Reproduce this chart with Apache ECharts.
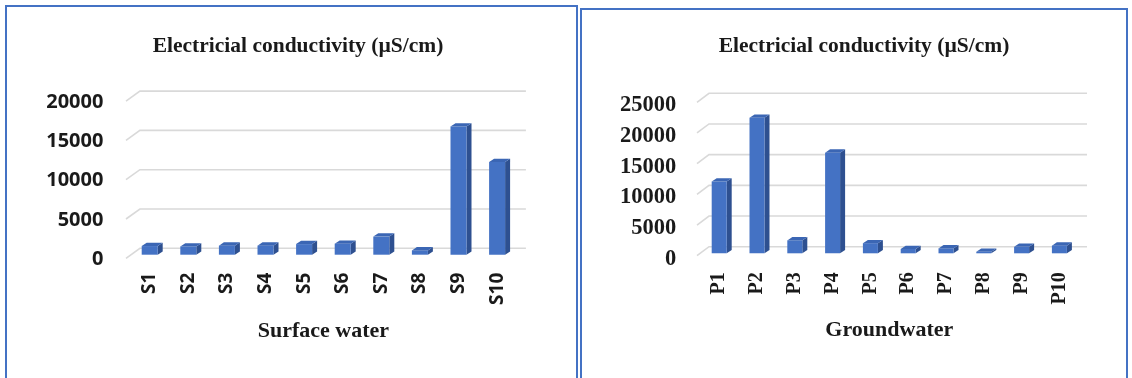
<!DOCTYPE html>
<html>
<head>
<meta charset="utf-8">
<script src="https://cdn.jsdelivr.net/npm/echarts@6/dist/echarts.min.js"></script>
<style>
  html, body { margin: 0; padding: 0; background: #fff; }
  #drew { width: 1132px; height: 378px; }
</style>
</head>
<body>
<div id="drew"></div>
<script>
var surfaceCats = ['S1', 'S2', 'S3', 'S4', 'S5', 'S6', 'S7', 'S8', 'S9', 'S10'];
var surfaceVals = [1100, 1050, 1150, 1150, 1350, 1400, 2300, 550, 16300, 11800];
var groundCats = ['P1', 'P2', 'P3', 'P4', 'P5', 'P6', 'P7', 'P8', 'P9', 'P10'];
var groundVals = [11700, 22100, 2100, 16400, 1650, 700, 800, 250, 1050, 1250];
var surfaceTicks = [0, 5000, 10000, 15000, 20000];
var groundTicks = [0, 5000, 10000, 15000, 20000, 25000];

var titleText = 'Electricial conductivity (\u00b5S/cm)';
var serif = '"Liberation Serif", "Times New Roman", serif';
var sans = '"Open Sans", "Liberation Sans", sans-serif';

// fake 3d column: front face, right side, top
function barRender(w, dx, dy) {
    return function(params, api) {
        var c = api.coord([api.value(0), api.value(1)]);
        var z = api.coord([api.value(0), 0]);
        var xl = c[0] - w / 2, xr = c[0] + w / 2;
        var top = c[1], base = z[1];
        return {
            type: 'group',
            children: [{
                type: 'polygon',
                shape: { points: [[xr, top], [xr + dx, top - dy], [xr + dx, base - dy], [xr, base]] },
                style: { fill: '#2e5090' }
            }, {
                type: 'rect',
                shape: { x: xl, y: top, width: w, height: base - top },
                style: { fill: '#4472c4' }
            }, {
                type: 'polygon',
                shape: { points: [[xl, top], [xr, top], [xr + dx, top - dy], [xl + dx, top - dy]] },
                style: { fill: '#3b66b4' }
            }]
        };
    };
}

// back wall gridlines with the slanted floor stub
function wallRender(backDx, backDy, frontDx, frontDy) {
    return function(params, api) {
        var cs = params.coordSys;
        var y = api.coord([0, api.value(1)])[1];
        return {
            type: 'polyline',
            shape: { points: [[cs.x + frontDx, y + frontDy], [cs.x + backDx, y - backDy], [cs.x + cs.width + backDx, y - backDy]] },
            style: { stroke: '#d9d9d9', lineWidth: 1.6, fill: null }
        };
    };
}

function plain(v) { return String(v); }

var myChart = echarts.init(document.getElementById('drew'));
var option = {
    backgroundColor: '#fff',
    animation: false,
    graphic: [{
        type: 'rect', shape: { x: 6, y: 6, width: 571, height: 400 },
        style: { fill: null, stroke: '#4472c4', lineWidth: 2 }
    }, {
        type: 'rect', shape: { x: 581, y: 9, width: 546, height: 400 },
        style: { fill: null, stroke: '#4472c4', lineWidth: 2 }
    }],
    title: [{
        text: titleText, left: 293, top: 30, textAlign: 'center',
        textStyle: { fontFamily: serif, fontWeight: 'bold', fontSize: 21.5, color: '#1a1a1a' }
    }, {
        text: titleText, left: 859, top: 30, textAlign: 'center',
        textStyle: { fontFamily: serif, fontWeight: 'bold', fontSize: 21.5, color: '#1a1a1a' }
    }],
    grid: [
        { left: 130.4, top: 97.5, width: 386, height: 157.2 },
        { left: 700.3, top: 99.9, width: 378, height: 153.4 }
    ],
    xAxis: [{
        type: 'category', gridIndex: 0, data: surfaceCats,
        name: 'Surface water', nameLocation: 'middle', nameGap: 66,
        nameTextStyle: { fontFamily: serif, fontWeight: 'bold', fontSize: 22, color: '#1a1a1a' },
        axisLine: { show: false }, axisTick: { show: false },
        axisLabel: { rotate: 90, margin: 18, fontFamily: sans, fontWeight: 'bold', fontSize: 19, color: '#1a1a1a' }
    }, {
        type: 'category', gridIndex: 1, data: groundCats,
        name: 'Groundwater', nameLocation: 'middle', nameGap: 66,
        nameTextStyle: { fontFamily: serif, fontWeight: 'bold', fontSize: 22, color: '#1a1a1a' },
        axisLine: { show: false }, axisTick: { show: false },
        axisLabel: { rotate: 90, margin: 19, fontFamily: serif, fontWeight: 'bold', fontSize: 20, color: '#1a1a1a' }
    }],
    yAxis: [{
        type: 'value', gridIndex: 0, min: 0, max: 20000, interval: 5000,
        splitLine: { show: false }, axisLine: { show: false }, axisTick: { show: false },
        axisLabel: { margin: 27, formatter: plain, verticalAlign: 'top', lineHeight: 9,
            fontFamily: sans, fontWeight: 'bold', fontSize: 20, color: '#1a1a1a' }
    }, {
        type: 'value', gridIndex: 1, min: 0, max: 25000, interval: 5000,
        splitLine: { show: false }, axisLine: { show: false }, axisTick: { show: false },
        axisLabel: { margin: 24, formatter: plain, verticalAlign: 'top', lineHeight: 11,
            fontFamily: serif, fontWeight: 'bold', fontSize: 22.5, color: '#1a1a1a' }
    }],
    series: [{
        type: 'custom', xAxisIndex: 0, yAxisIndex: 0, z: 1,
        renderItem: wallRender(9.5, 6.4, -4.4, 3.6),
        data: surfaceTicks.map(function(v) { return [0, v]; })
    }, {
        type: 'custom', xAxisIndex: 0, yAxisIndex: 0, z: 2,
        renderItem: barRender(16, 5, 3.3),
        data: surfaceVals.map(function(v, i) { return [i, v]; })
    }, {
        type: 'custom', xAxisIndex: 1, yAxisIndex: 1, z: 1,
        renderItem: wallRender(8.7, 6.6, -3.3, 2.4),
        data: groundTicks.map(function(v) { return [0, v]; })
    }, {
        type: 'custom', xAxisIndex: 1, yAxisIndex: 1, z: 2,
        renderItem: barRender(15, 5, 3.3),
        data: groundVals.map(function(v, i) { return [i, v]; })
    }]
};
myChart.setOption(option);
window.addEventListener('resize', function() {
    myChart.resize();
});
</script>
</body>
</html>
